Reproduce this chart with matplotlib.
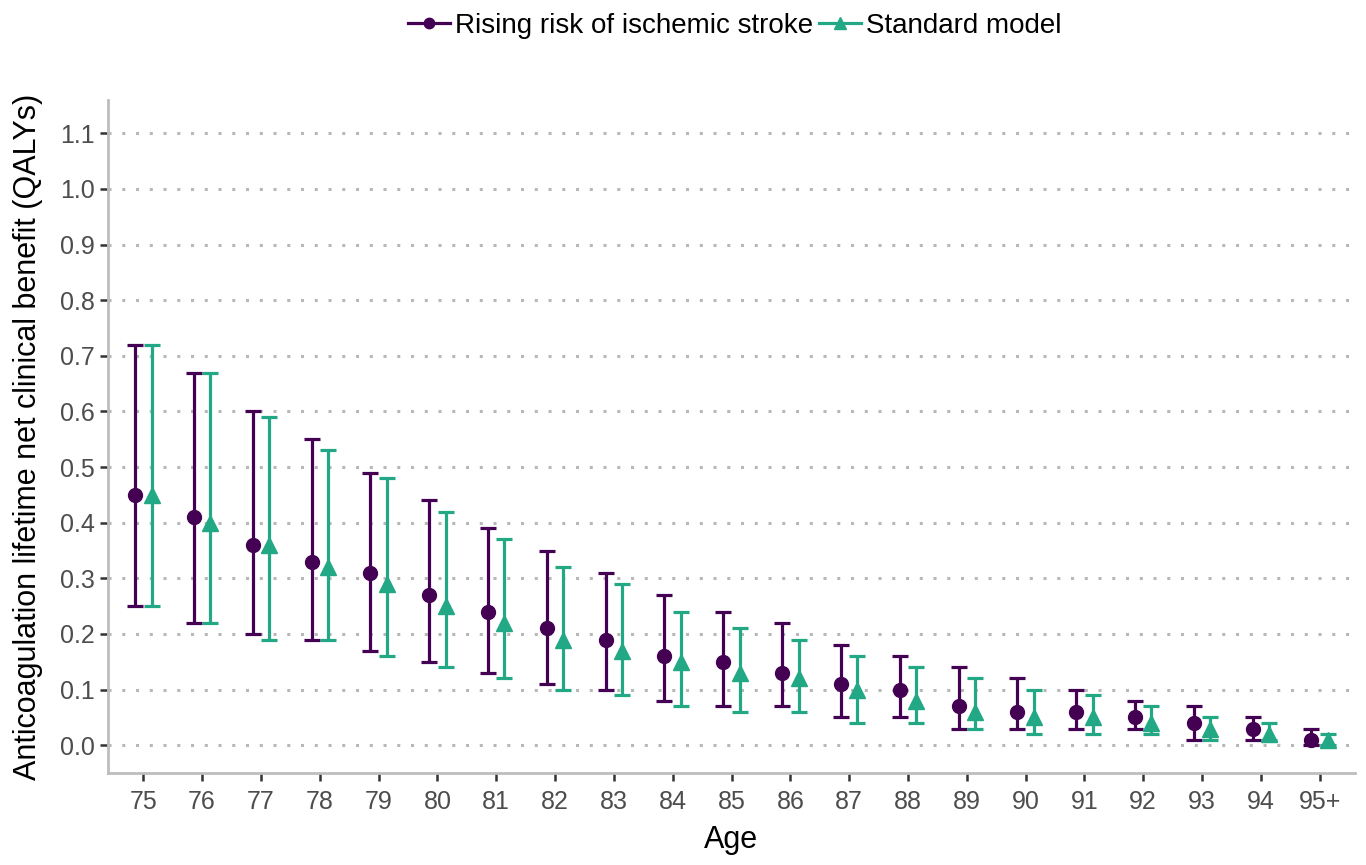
import numpy as np
import matplotlib.pyplot as plt

ages = ["75", "76", "77", "78", "79", "80", "81", "82", "83", "84", "85",
        "86", "87", "88", "89", "90", "91", "92", "93", "94", "95+"]

rising_mean = [0.45, 0.41, 0.36, 0.33, 0.31, 0.27, 0.24, 0.21, 0.19, 0.16, 0.15,
               0.13, 0.11, 0.10, 0.07, 0.06, 0.06, 0.05, 0.04, 0.03, 0.01]
rising_lo = [0.25, 0.22, 0.20, 0.19, 0.17, 0.15, 0.13, 0.11, 0.10, 0.08, 0.07,
             0.07, 0.05, 0.05, 0.03, 0.03, 0.03, 0.03, 0.01, 0.01, 0.00]
rising_hi = [0.72, 0.67, 0.60, 0.55, 0.49, 0.44, 0.39, 0.35, 0.31, 0.27, 0.24,
             0.22, 0.18, 0.16, 0.14, 0.12, 0.10, 0.08, 0.07, 0.05, 0.03]

std_mean = [0.45, 0.40, 0.36, 0.32, 0.29, 0.25, 0.22, 0.19, 0.17, 0.15, 0.13,
            0.12, 0.10, 0.08, 0.06, 0.05, 0.05, 0.04, 0.03, 0.02, 0.01]
std_lo = [0.25, 0.22, 0.19, 0.19, 0.16, 0.14, 0.12, 0.10, 0.09, 0.07, 0.06,
          0.06, 0.04, 0.04, 0.03, 0.02, 0.02, 0.02, 0.01, 0.01, 0.00]
std_hi = [0.72, 0.67, 0.59, 0.53, 0.48, 0.42, 0.37, 0.32, 0.29, 0.24, 0.21,
          0.19, 0.16, 0.14, 0.12, 0.10, 0.09, 0.07, 0.05, 0.04, 0.02]

purple = '#440154'
green = '#22A884'

plt.rcParams['font.family'] = ['Liberation Sans', 'DejaVu Sans']

fig = plt.figure(figsize=(13.66, 8.65), dpi=100)
ax = fig.add_axes([108 / 1366, 1 - 773 / 865, 1247 / 1366, 673 / 865])

x = np.arange(len(ages))
dodge = 0.14


def draw(xpos, mean, lo, hi, color, marker, ms, label):
    mean = np.array(mean)
    yerr = [mean - np.array(lo), np.array(hi) - mean]
    ax.errorbar(xpos, mean, yerr=yerr, fmt='none', ecolor=color,
                elinewidth=2.3, capsize=5.5, capthick=2.3, zorder=3)
    ax.plot(xpos, mean, linestyle='none', marker=marker, markersize=ms,
            color=color, zorder=4)
    # handle for legend
    return ax.plot([], [], color=color, marker=marker, markersize=ms * 0.75,
                   linewidth=2.3, label=label)[0]


h1 = draw(x - dodge, rising_mean, rising_lo, rising_hi, purple, 'o', 10,
          'Rising risk of ischemic stroke')
h2 = draw(x + dodge, std_mean, std_lo, std_hi, green, '^', 11,
          'Standard model')

ax.set_xlim(-0.6, len(ages) - 0.4)
ax.set_ylim(-0.05, 1.16)
ax.set_yticks(np.arange(0, 1.11, 0.1))
ax.set_yticklabels([f"{v:.1f}" for v in np.arange(0, 1.11, 0.1)])
ax.set_xticks(x)
ax.set_xticklabels(ages)

ax.yaxis.grid(True, linestyle=(0, (1, 3.5)), color='#b8b8b8', linewidth=2.2)
ax.set_axisbelow(True)

for side in ['top', 'right']:
    ax.spines[side].set_visible(False)
for side in ['left', 'bottom']:
    ax.spines[side].set_color('#bdbdbd')
    ax.spines[side].set_linewidth(2)

ax.tick_params(axis='both', colors='#333333', labelcolor='#4d4d4d',
               labelsize=18, length=6, width=1.8)
ax.tick_params(axis='x', pad=6)

ax.set_xlabel('Age', fontsize=22, color='black', labelpad=8)
ax.set_ylabel('Anticoagulation lifetime net clinical benefit (QALYs)',
              fontsize=22, color='black', labelpad=12)

fig.legend(handles=[h1, h2], loc='center', bbox_to_anchor=(0.538, 0.97),
           ncol=2, frameon=False, fontsize=20, handlelength=1.5,
           handletextpad=0.2, columnspacing=0.2)

fig.savefig('out.png', dpi=100)
